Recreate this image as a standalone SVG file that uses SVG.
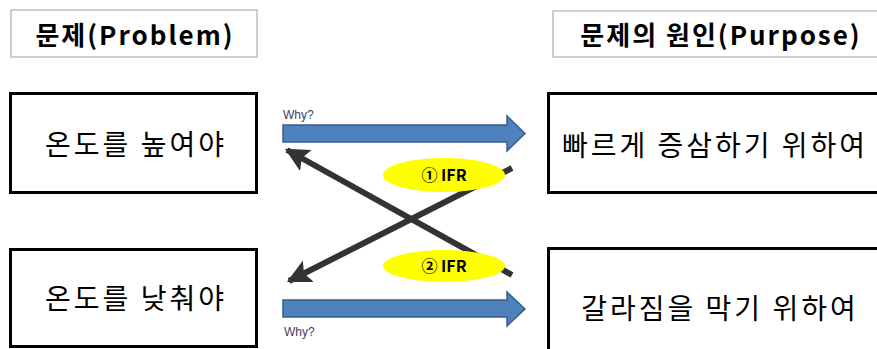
<svg xmlns="http://www.w3.org/2000/svg" width="877" height="349" viewBox="0 0 877 349">
<style>
.hdr{fill:#fff;stroke:#bfbfbf;stroke-width:1.5}
.hdrt{font-family:"Noto Sans CJK KR","Noto Sans",sans-serif;font-weight:bold;font-size:26px;letter-spacing:2px;fill:#000;text-anchor:middle}
.box{fill:#fff;stroke:#000;stroke-width:3}
.bt{font-family:"Noto Sans CJK KR",sans-serif;font-size:28px;letter-spacing:3px;fill:#000;text-anchor:middle}
.blue{fill:#4f81bd;stroke:#385d8a;stroke-width:1.5}
.why{font-family:"Liberation Sans",Arial,sans-serif;font-size:12px;fill:#404060}
.dark{stroke:#333;stroke-width:6;fill:none}
.ell{fill:#ffff00}
.ift{font-family:"Noto Sans CJK KR","Liberation Sans",sans-serif;font-weight:bold;font-size:16px;fill:#000;text-anchor:middle}
</style>
<defs>
<marker id="ah" viewBox="0 0 10 10" refX="9" refY="5" markerWidth="4" markerHeight="4" orient="auto" markerUnits="strokeWidth">
<path d="M0,0 L10,5 L0,10 L2,5 Z" fill="#333"/>
</marker>
</defs>
<rect width="877" height="349" fill="#fff"/>
<g id="header-problem">
<rect class="hdr" x="11" y="10" width="246" height="47"/>
<text class="hdrt" x="135" y="45">문제(Problem)</text>
</g>
<g id="header-purpose">
<rect class="hdr" x="553" y="11" width="330" height="46"/>
<text class="hdrt" x="721" y="45">문제의 원인(Purpose)</text>
</g>
<g id="node-raise">
<rect class="box" x="10.5" y="93.5" width="246" height="99"/>
<text class="bt" x="136" y="155">온도를 높여야</text>
</g>
<g id="node-lower">
<rect class="box" x="10.5" y="249.5" width="246" height="97"/>
<text class="bt" x="136" y="309">온도를 낮춰야</text>
</g>
<g id="node-fast">
<rect class="box" x="548.5" y="93.5" width="340" height="99"/>
<text class="bt" x="715" y="156">빠르게 증삼하기 위하여</text>
</g>
<g id="node-separate">
<rect class="box" x="548.5" y="248.5" width="340" height="110"/>
<text class="bt" x="720" y="319">갈라짐을 막기 위하여</text>
</g>
<g id="connectors">
<path class="blue" d="M283,125 L507,125 L507,116 L525,133.5 L507,151 L507,142 L283,142 Z"/>
<text class="why" x="283" y="119">Why?</text>
<path class="blue" d="M283,300 L507,300 L507,292 L525,309 L507,326 L507,317 L283,317 Z"/>
<text class="why" x="284" y="336">Why?</text>
<line class="dark" x1="512" y1="168" x2="289" y2="281" marker-end="url(#ah)"/>
<line class="dark" x1="512" y1="275" x2="287" y2="150" marker-end="url(#ah)"/>
</g>
<g id="label-ifr1">
<ellipse class="ell" cx="444" cy="175" rx="61" ry="17"/>
<text class="ift" x="444" y="181">① IFR</text>
</g>
<g id="label-ifr2">
<ellipse class="ell" cx="444" cy="266" rx="61" ry="16"/>
<text class="ift" x="444" y="272">② IFR</text>
</g>
</svg>
